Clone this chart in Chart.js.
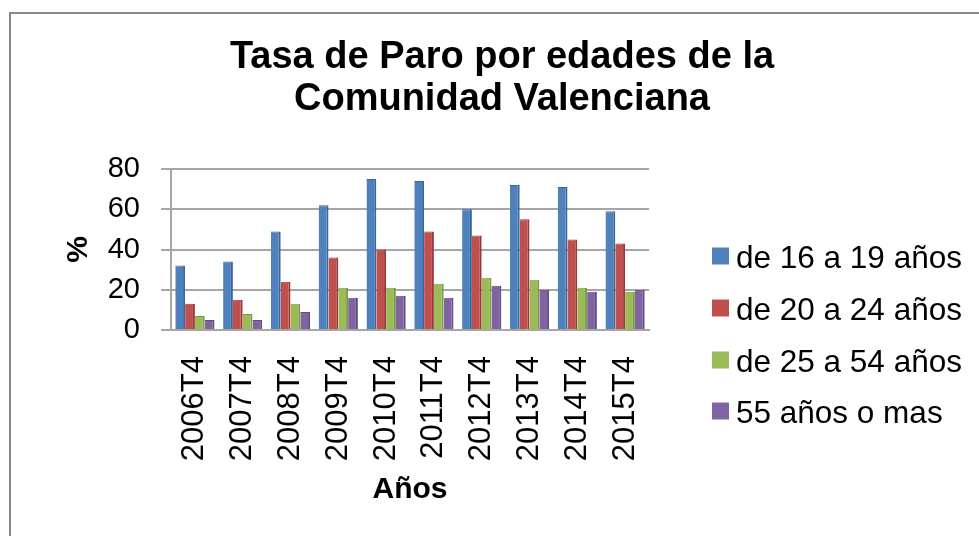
<!DOCTYPE html>
<html>
<head>
<meta charset="utf-8">
<script src="https://cdn.jsdelivr.net/npm/chart.js@4/dist/chart.umd.min.js"></script>
<style>
  html, body { margin: 0; padding: 0; background: #fff; }
  #wrap { position: relative; width: 979px; height: 536px; overflow: hidden; }
  #frame { position: absolute; left: 9px; top: 12px; width: 1000px; height: 600px; border: 2px solid #8a8a8a; box-sizing: border-box; }
  canvas { position: absolute; left: 0; top: 0; }
</style>
</head>
<body>
<div id="wrap">
  <div id="frame"></div>
  <canvas id="c" width="979" height="536"></canvas>
</div>
<script>
const categories = ['2006T4','2007T4','2008T4','2009T4','2010T4','2011T4','2012T4','2013T4','2014T4','2015T4'];
const seriesNames = ['de 16 a 19 años','de 20 a 24 años','de 25 a 54 años','55 años o mas'];
const age16to19 = [32, 34, 49, 62, 75, 74, 60, 72, 71, 59];
const age20to24 = [13, 15, 24, 36, 40, 49, 47, 55, 45, 43];
const age25to54 = [7, 8, 13, 21, 21, 23, 26, 25, 21, 19];
const age55plus = [5, 5, 9, 16, 17, 16, 22, 20, 19, 20];
const yTicks = [0, 20, 40, 60, 80];
const titleLines = ['Tasa de Paro por edades de la', 'Comunidad Valenciana'];
const xTitle = 'Años';
const yTitle = '%';

const colors = ['#4F81BD', '#C0504D', '#9BBB59', '#8064A2'];
const borders = ['#3A6699', '#9A3A37', '#7C9A42', '#634C82'];
const FONT = "'Liberation Sans', Arial, sans-serif";

const legendPlugin = {
  id: 'refLegend',
  afterDraw(chart) {
    const ctx = chart.ctx;
    const rows = [256, 308, 360, 411];
    ctx.save();
    chart.data.datasets.forEach((ds, i) => {
      const cy = rows[i];
      ctx.fillStyle = ds.backgroundColor;
      ctx.fillRect(712, cy - 8.5, 17, 17);
      ctx.fillStyle = '#000';
      ctx.font = '31.5px ' + FONT;
      ctx.textBaseline = 'alphabetic';
      ctx.textAlign = 'left';
      ctx.fillText(ds.label, 736, cy + 12);
    });
    ctx.restore();
  }
};

const datasets = [age16to19, age20to24, age25to54, age55plus].map((d, i) => ({
  label: seriesNames[i],
  data: d,
  backgroundColor: colors[i],
  borderColor: borders[i],
  borderWidth: {right: 2, top: 1, left: 0, bottom: 0},
  categoryPercentage: 0.82,
  barPercentage: 1.0
}));

new Chart(document.getElementById('c'), {
  type: 'bar',
  data: { labels: categories, datasets },
  plugins: [legendPlugin],
  options: {
    responsive: false,
    animation: false,
    devicePixelRatio: 1,
    layout: { padding: { left: 25, right: 0, top: 0, bottom: 28 } },
    plugins: {
      legend: { display: false },
      tooltip: { enabled: false },
      title: {
        display: true,
        text: titleLines,
        color: '#000',
        font: { family: FONT, size: 38, weight: 'bold', lineHeight: 1.1 },
        padding: { top: 37, bottom: 48.4 }
      }
    },
    scales: {
      x: {
        grid: { display: false },
        border: { display: true, color: '#a6a6a6', width: 2 },
        ticks: {
          color: '#000',
          font: { family: FONT, size: 31 },
          minRotation: 90, maxRotation: 90,
          autoSkip: false,
          padding: 18
        },
        title: {
          display: true, text: xTitle, color: '#000',
          font: { family: FONT, size: 30, weight: 'bold', lineHeight: 1.2 },
          padding: { top: 0, bottom: 0 }
        },
        afterFit(s) { s.height = 178; }
      },
      y: {
        min: 0, max: 80,
        afterBuildTicks(s) { s.ticks = yTicks.map(v => ({ value: v })); },
        grid: { color: '#a6a6a6', lineWidth: 2, tickLength: 10, drawTicks: true },
        border: { display: true, color: '#a6a6a6', width: 2 },
        ticks: { color: '#000', font: { family: FONT, size: 29 }, padding: 21 },
        title: {
          display: true, text: yTitle, color: '#000',
          font: { family: FONT, size: 30, weight: 'bold', lineHeight: 1.2 },
          padding: { top: 36, bottom: 0 }
        },
        afterFit(s) { s.width = 146; }
      },
      spacer: {
        position: 'right',
        display: true,
        grid: { display: false, drawTicks: false },
        border: { display: false },
        ticks: { display: false },
        afterFit(s) { s.width = 330; }
      }
    }
  }
});
</script>
</body>
</html>
